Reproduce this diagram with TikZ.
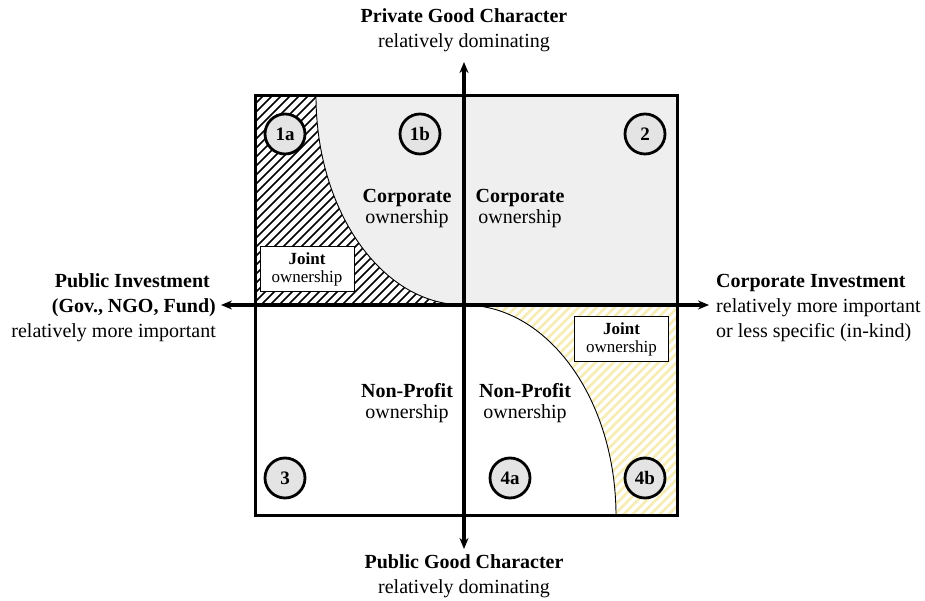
\documentclass[tikz,border=0pt]{standalone}
\usepackage{fontspec}
\setmainfont{Liberation Serif}
\usetikzlibrary{arrows.meta}
\definecolor{quadgray}{HTML}{EFEFEF}
\definecolor{badgegray}{HTML}{E4E4E4}
\definecolor{hatchyellow}{HTML}{F6EDB4}
\begin{document}
\begin{tikzpicture}[x=1pt,y=1pt,
  badge/.style={circle,draw,line width=2.8pt,fill=badgegray,minimum size=40pt,inner sep=0pt,
    font=\fontsize{19}{20}\selectfont\bfseries},
  quadlabel/.style={align=center,inner sep=0pt,font=\fontsize{20}{21}\selectfont},
  jointbox/.style={draw,line width=1pt,fill=white,minimum width=94pt,minimum height=45pt,
    inner sep=0pt,align=center,font=\fontsize{17}{18}\selectfont},
  axis/.style={line width=3.2pt,{Stealth[length=11pt,width=9pt]}-{Stealth[length=11pt,width=9pt]}},
  outerlabel/.style={inner sep=0pt,font=\fontsize{20}{25}\selectfont},
  boundary/.style={line width=0.9pt}
]
\useasboundingbox (0,0) rectangle (925,601);

% upper right quadrant
\fill[quadgray] (464,296) rectangle (677,505);

% upper left quadrant: hatched joint zone, grey corporate zone
\begin{scope}
  \clip (255,296) rectangle (464,505);
  \foreach \k in {-260,-251,...,180}
    \draw[line width=1.7pt] (\k,0) -- ++(700,700);
\end{scope}
\fill[quadgray] (464,505) -- (316,505)
  arc[start angle=180,end angle=270,x radius=148pt,y radius=209pt] -- cycle;
\draw[boundary] (316,505)
  arc[start angle=180,end angle=270,x radius=148pt,y radius=209pt];

% lower right quadrant: yellow hatched joint zone, white non-profit zone
\begin{scope}
  \clip (464,85) rectangle (677,296);
  \foreach \k in {150,159,...,600}
    \draw[hatchyellow,line width=2.8pt] (\k,0) -- ++(700,700);
\end{scope}
\fill[white] (464,296)
  arc[start angle=90,end angle=0,x radius=152pt,y radius=211pt] -- (464,85) -- cycle;
\draw[boundary] (464,296)
  arc[start angle=90,end angle=0,x radius=152pt,y radius=211pt];

% frame
\draw[line width=3pt] (255,85) rectangle (677,505);

% axes
\coordinate (axW) at (221,296);
\coordinate (axE) at (709,296);
\coordinate (axN) at (464,539);
\coordinate (axS) at (464,52);
\draw[axis] (axW) -- (axE);
\draw[axis] (axS) -- (axN);

% quadrant badges
\node[badge] (b1a) at (285,467) {1a};
\node[badge] (b1b) at (420,467) {1b};
\node[badge] (b2)  at (645,467) {2};
\node[badge] (b3)  at (285,123) {3};
\node[badge] (b4a) at (510,123) {4a};
\node[badge] (b4b) at (645,123) {4b};

% ownership labels
\node[quadlabel] (corpL) at (407,392) {\textbf{Corporate}\\ownership};
\node[quadlabel] (corpR) at (520,392) {\textbf{Corporate}\\ownership};
\node[quadlabel] (npL) at (407,198) {\textbf{Non-Profit}\\ownership};
\node[quadlabel] (npR) at (525,198) {\textbf{Non-Profit}\\ownership};

\node[jointbox] (jointL) at (307,331.5) {\textbf{Joint}\\ownership};
\node[jointbox] (jointR) at (621.5,261.5) {\textbf{Joint}\\ownership};

% axis labels
\node[outerlabel,align=center] (north) at (464,571)
  {\textbf{Private Good Character}\\relatively dominating};
\node[outerlabel,align=center] (south) at (464,25)
  {\textbf{Public Good Character}\\relatively dominating};
\node[outerlabel,align=right,anchor=east] (west) at (216,293)
  {\textbf{Public Investment}\hspace*{6pt}\\\textbf{(Gov., NGO, Fund)}\\relatively more important};
\node[outerlabel,align=left,anchor=west] (east) at (716,293)
  {\textbf{Corporate Investment}\\relatively more important\\or less specific (in-kind)};
\end{tikzpicture}
\end{document}
